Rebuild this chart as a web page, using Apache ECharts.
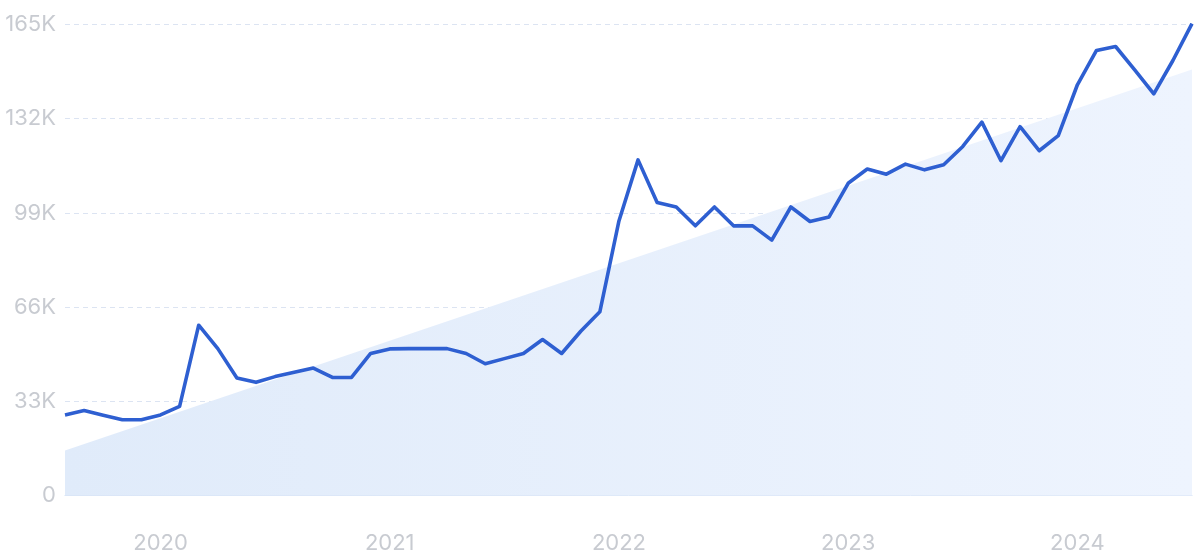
<!DOCTYPE html>
<html>
<head>
<meta charset="utf-8">
<script src="https://cdn.jsdelivr.net/npm/echarts@6/dist/echarts.min.js"></script>
<style>html,body{margin:0;padding:0;background:#fff}#c{width:1200px;height:557px}</style>
</head>
<body>
<div id="c"></div>
<script>
// Monthly categories Aug 2019 - Jul 2024
const months = [
  '2019-08','2019-09','2019-10','2019-11','2019-12',
  '2020-01','2020-02','2020-03','2020-04','2020-05','2020-06','2020-07','2020-08','2020-09','2020-10','2020-11','2020-12',
  '2021-01','2021-02','2021-03','2021-04','2021-05','2021-06','2021-07','2021-08','2021-09','2021-10','2021-11','2021-12',
  '2022-01','2022-02','2022-03','2022-04','2022-05','2022-06','2022-07','2022-08','2022-09','2022-10','2022-11','2022-12',
  '2023-01','2023-02','2023-03','2023-04','2023-05','2023-06','2023-07','2023-08','2023-09','2023-10','2023-11','2023-12',
  '2024-01','2024-02','2024-03','2024-04','2024-05','2024-06','2024-07'
];
// Search volume (thousands)
const volume = [
  28.3, 29.8, 28.2, 26.6, 26.6,
  28.3, 31.3, 59.7, 51.5, 41.2, 39.7, 41.7, 43.2, 44.7, 41.4, 41.4, 49.8,
  51.4, 51.5, 51.5, 51.5, 49.8, 46.2, 48.0, 49.8, 54.7, 49.8, 57.6, 64.4,
  96.2, 117.6, 102.7, 101.1, 94.5, 101.1, 94.5, 94.5, 89.5, 101.1, 96.0, 97.6,
  109.4, 114.4, 112.6, 116.1, 114.1, 115.9, 122.3, 130.8, 117.3, 129.2, 120.8, 126.1,
  143.9, 155.9, 157.3, 149.1, 140.7, 152.4, 165.3
];
// Trend endpoints (thousands)
const trendStart = 15.8;
const trendEnd = 149.2;
const yTicks = [0, 33, 66, 99, 132, 165];

const trend = months.map((m, i) => i === 0 ? trendStart : (i === months.length - 1 ? trendEnd : null));

const chart = echarts.init(document.getElementById('c'), null, {renderer: 'canvas'});
const labelColor = '#c8cbd1';
chart.setOption({
  animation: false,
  grid: {left: 65, right: 8, top: 24.5, bottom: 61.3, containLabel: false},
  xAxis: {
    type: 'category',
    data: months,
    boundaryGap: false,
    axisLine: {show: true, lineStyle: {color: '#d3e0f4', width: 1}},
    axisTick: {show: false},
    axisLabel: {
      interval: (i, v) => v.endsWith('-01'),
      formatter: v => v.slice(0, 4),
      color: labelColor,
      fontSize: 22,
      fontFamily: 'Inter',
      margin: 37
    },
    splitLine: {show: false}
  },
  yAxis: {
    type: 'value',
    min: 0, max: 165, interval: 33,
    axisLine: {show: false},
    axisTick: {show: false},
    axisLabel: {
      color: labelColor,
      fontSize: 22,
      fontFamily: 'Inter',
      margin: 9,
      formatter: v => yTicks.includes(v) ? (v === 0 ? '0' : v + 'K') : ''
    },
    splitLine: {show: true, lineStyle: {color: '#dce4f2', type: [5, 4], width: 1}}
  },
  series: [
    {
      type: 'line',
      data: trend,
      connectNulls: true,
      symbol: 'none',
      lineStyle: {width: 0},
      areaStyle: {
        opacity: 1,
        color: new echarts.graphic.LinearGradient(0, 0, 1, 0, [
          {offset: 0, color: '#e0ebfa'},
          {offset: 1, color: '#eef4fe'}
        ])
      },
      z: 1
    },
    {
      type: 'line',
      data: volume,
      symbol: 'none',
      lineStyle: {color: '#2e5fd1', width: 3.6, join: 'round'},
      z: 3
    }
  ]
});
</script>
</body>
</html>
